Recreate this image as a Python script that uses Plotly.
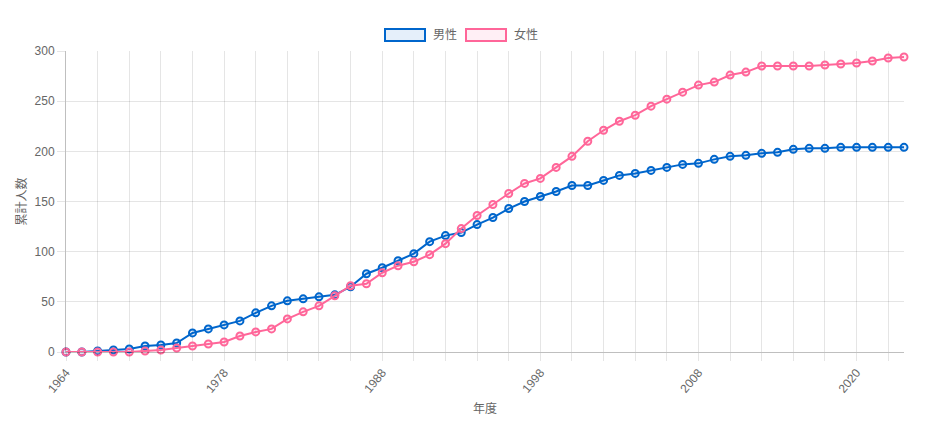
import plotly.graph_objects as go

# fiscal years on the category axis (a few early / late years have no entry)
years = [
    "1964", "1966", "1968", "1970", "1972", "1973", "1974", "1975", "1976", "1977",
    "1978", "1979", "1980", "1981", "1982", "1983", "1984", "1985", "1986", "1987",
    "1988", "1989", "1990", "1991", "1992", "1993", "1994", "1995", "1996", "1997",
    "1998", "1999", "2000", "2001", "2002", "2003", "2004", "2005", "2006", "2007",
    "2008", "2009", "2010", "2012", "2013", "2014", "2015", "2016", "2018", "2019",
    "2020", "2021", "2022", "2023",
]

# cumulative counts
male = [
    0, 0, 1, 2, 3, 6, 7, 9, 19, 23,
    27, 31, 39, 46, 51, 53, 55, 57, 65, 78,
    84, 91, 98, 110, 116, 119, 127, 134, 143, 150,
    155, 160, 166, 166, 171, 176, 178, 181, 184, 187,
    188, 192, 195, 196, 198, 199, 202, 203, 203, 204,
    204, 204, 204, 204,
]
female = [
    0, 0, 0, 0, 0, 1, 2, 4, 6, 8,
    10, 16, 20, 23, 33, 40, 46, 56, 66, 68,
    79, 86, 90, 97, 108, 123, 136, 147, 158, 168,
    173, 184, 195, 210, 221, 230, 236, 245, 252, 259,
    266, 269, 276, 279, 285, 285, 285, 285, 286, 287,
    288, 290, 293, 294,
]

series_names = ["男性", "女性"]
line_colors = ["rgb(0,102,204)", "rgb(255,102,153)"]
fill_colors = ["rgba(0,102,204,0.1)", "rgba(255,102,153,0.1)"]

# labelled ticks: every 10th category, gridlines every 2nd
tick_vals = years[::2]
tick_text = [y if i % 10 == 0 else "" for i, y in enumerate(years) if i % 2 == 0]

FONT = "Liberation Sans, Arial, Noto Sans CJK JP, sans-serif"
GRID = "rgba(0,0,0,0.1)"
# the page has an 8px body margin, so the figure is a bit smaller than the window
W, H = 922, 422
L, R, T, B = 58, 26, 43, 78

fig = go.Figure()
for name, vals, lc, fc in zip(series_names, [male, female], line_colors, fill_colors):
    fig.add_trace(
        go.Scatter(
            x=years,
            y=vals,
            name=name,
            mode="lines+markers",
            line=dict(color=lc, width=2),
            marker=dict(size=7, color=fc, line=dict(color=lc, width=2)),
            showlegend=False,
            cliponaxis=False,
        )
    )

# Chart.js style legend: wide boxes with label (positions in figure pixels)
pw, ph = W - L - R, H - T - B
box_left = [377, 458]
for name, lc, fc, bx in zip(series_names, line_colors, fill_colors, box_left):
    fig.add_shape(
        type="rect",
        xref="paper", yref="paper",
        x0=(bx - L) / pw, x1=(bx + 40 - L) / pw,
        y0=(T + ph - 33) / ph, y1=(T + ph - 21) / ph,
        line=dict(color=lc, width=2),
        fillcolor=fc,
    )
    fig.add_annotation(
        xref="paper", yref="paper",
        x=(bx + 46 - L) / pw, y=(T + ph - 27) / ph,
        xanchor="left", yanchor="middle",
        text=name, showarrow=False,
        font=dict(size=12, color="#666", family=FONT),
    )

fig.update_xaxes(
    type="category",
    range=[0, len(years) - 1],
    tickmode="array",
    tickvals=tick_vals,
    ticktext=tick_text,
    tickangle=-50,
    ticks="outside",
    ticklen=8,
    tickcolor=GRID,
    showgrid=True,
    gridcolor=GRID,
    showline=True,
    linecolor="rgba(0,0,0,0.25)",
    linewidth=1,
    tickfont=dict(size=12, color="#666"),
    title=dict(text="年度", font=dict(size=12, color="#666"), standoff=9),
)
fig.update_yaxes(
    range=[0, 300],
    dtick=50,
    ticks="outside",
    ticklen=8,
    tickcolor=GRID,
    showgrid=True,
    gridcolor=GRID,
    zeroline=False,
    showline=True,
    linecolor="rgba(0,0,0,0.25)",
    linewidth=1,
    tickfont=dict(size=12, color="#666"),
    title=dict(text="累計人数", font=dict(size=12, color="#666"), standoff=5),
)
fig.update_layout(
    width=W,
    height=H,
    margin=dict(l=L, r=R, t=T, b=B, autoexpand=False),
    paper_bgcolor="white",
    plot_bgcolor="white",
    font=dict(family=FONT, size=12, color="#666"),
    showlegend=False,
)

fig.write_html("out.html")
